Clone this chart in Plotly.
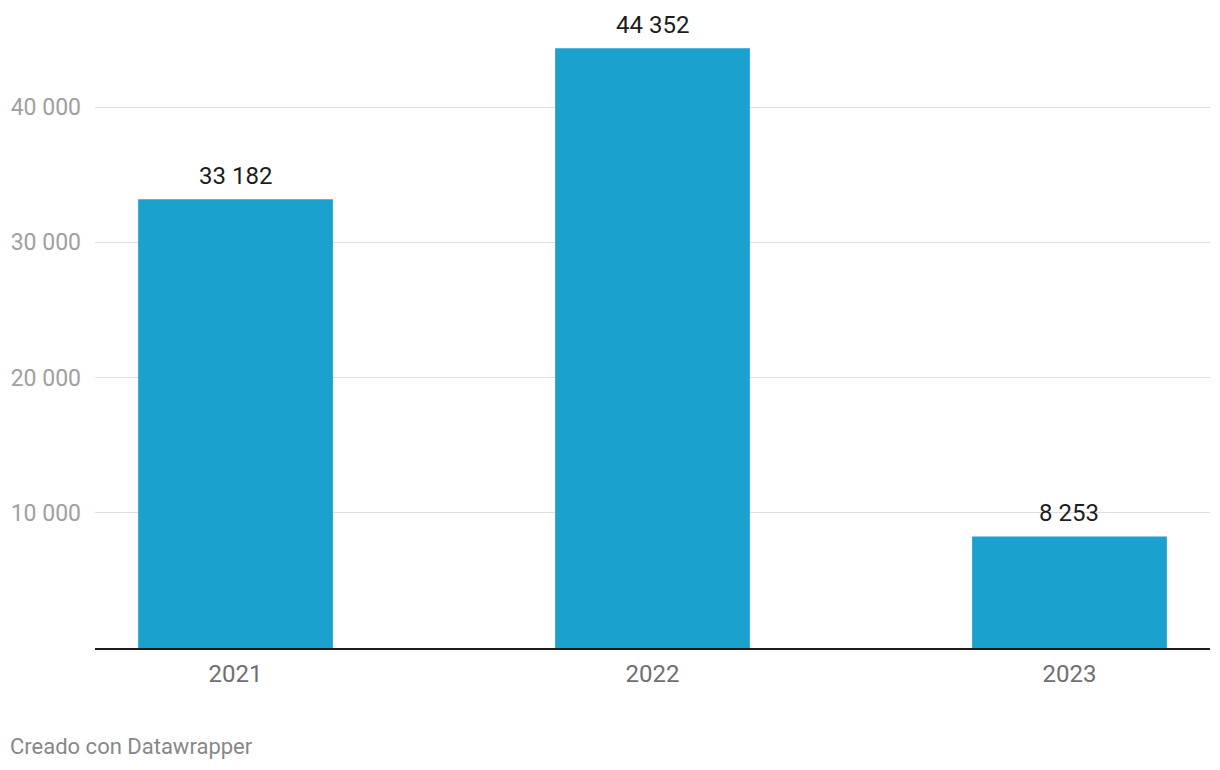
import plotly.graph_objects as go

years = ["2021", "2022", "2023"]
values = [33182, 44352, 8253]
value_labels = ["33 182", "44 352", "8 253"]
y_tickvals = [10000, 20000, 30000, 40000]
y_ticktext = ["10 000", "20 000", "30 000", "40 000"]

W, H = 1220, 770
fig = go.Figure()
fig.add_trace(go.Bar(
    x=years, y=values, marker_color="#1aa1cd", marker_line_width=0,
    hoverinfo="skip",
))

for i, (v, lab) in enumerate(zip(values, value_labels)):
    fig.add_annotation(x=i, y=v, text=lab, showarrow=False,
                       yanchor="bottom", yshift=7,
                       font=dict(family="Roboto", size=24, color="#1d1d1d"))

fig.add_annotation(xref="paper", yref="paper", x=-95/1115, y=-(746-648)/648,
                   xanchor="left", yanchor="middle", xshift=8,
                   text="Creado con Datawrapper", showarrow=False,
                   font=dict(family="Roboto", size=22, color="#888888"))

fig.update_layout(
    width=W, height=H,
    margin=dict(l=95, r=10, t=0, b=122),
    paper_bgcolor="white", plot_bgcolor="white",
    bargap=0.533,
    showlegend=False,
    font=dict(family="Roboto"),
    xaxis=dict(
        type="category", range=[-0.337, 2.337],
        showline=True, linecolor="#1d1d1d", linewidth=2,
        showgrid=False, ticks="", ticklabelstandoff=3,
        tickfont=dict(family="Roboto", size=24, color="#707070"),
    ),
    yaxis=dict(
        range=[0, 47911], tickvals=y_tickvals, ticktext=y_ticktext,
        showgrid=True, gridcolor="#dedede", gridwidth=1,
        zeroline=False, showline=False, ticks="",
        ticklabelstandoff=13,
        tickfont=dict(family="Roboto", size=23, color="#a0a0a0"),
    ),
)

fig.write_html("out.html")
